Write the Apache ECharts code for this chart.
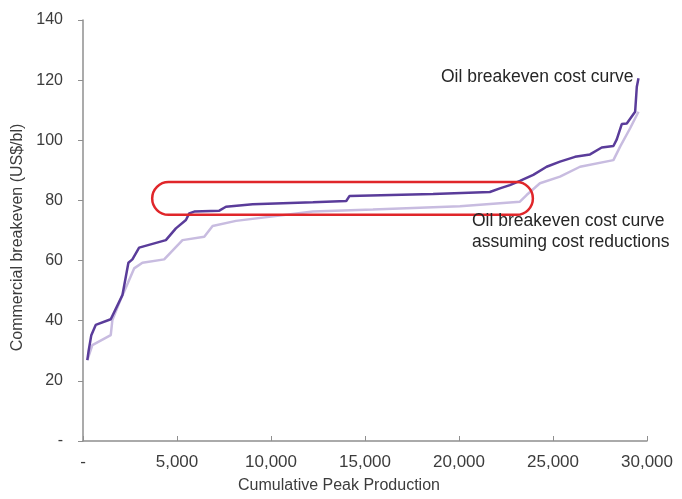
<!DOCTYPE html>
<html>
<head>
<meta charset="utf-8">
<script src="https://cdn.jsdelivr.net/npm/echarts@6/dist/echarts.min.js"></script>
<style>
html,body{margin:0;padding:0;background:#fff;}
#chart{width:682px;height:499px;}
</style>
</head>
<body>
<div id="chart"></div>
<script>
// Oil breakeven cost curve (cumulative peak production, breakeven US$/bl)
var baseProduction = [230, 300, 442, 676, 1476, 2096, 2415, 2628, 2985, 4408, 4941, 5474, 5650, 5917, 7249, 7604, 9026, 12225, 14003, 14179, 18622, 21641, 22175, 22708, 23240, 23951, 24661, 25372, 26171, 26970, 27592, 28214, 28392, 28658, 28925, 29369, 29458, 29547];
var baseBreakeven = [26.9, 30.0, 35.2, 38.6, 40.5, 48.5, 59.3, 60.4, 64.3, 66.8, 70.7, 73.5, 75.7, 76.3, 76.6, 77.9, 78.7, 79.4, 79.8, 81.5, 82.1, 82.8, 84.0, 85.1, 86.5, 88.5, 91.2, 92.9, 94.5, 95.3, 97.6, 98.1, 100.3, 105.4, 105.6, 109.5, 117.8, 120.6];

// Oil breakeven cost curve assuming cost reductions
var reducedProduction = [230, 496, 1476, 1562, 2096, 2185, 2719, 3161, 4318, 5293, 6450, 6893, 8137, 12225, 15422, 20049, 23240, 23596, 24306, 25372, 26438, 28214, 28570, 29103, 29547];
var reducedBreakeven = [26.9, 31.9, 35.2, 40.2, 48.5, 49.6, 57.4, 59.3, 60.4, 66.8, 67.9, 71.5, 73.2, 76.3, 77.0, 78.1, 79.6, 81.8, 85.7, 87.9, 91.2, 93.4, 97.9, 104.0, 109.5];

// highlighted flat region (production range, breakeven range)
var highlightProduction = [3680, 23930];
var highlightBreakeven = [75.2, 86.1];

var yTicks = [0, 20, 40, 60, 80, 100, 120, 140];
var xTicks = [0, 5000, 10000, 15000, 20000, 25000, 30000];

function zip(a, b) { return a.map(function (v, i) { return [v, b[i]]; }); }

var chart = echarts.init(document.getElementById('chart'));
var font = 'Liberation Sans, Arial, sans-serif';
var labelColor = '#3c3c3c';
var axisColor = '#8f8f8f';

chart.setOption({
  animation: false,
  backgroundColor: '#ffffff',
  grid: { left: 83, right: 35, top: 20, bottom: 58, containLabel: false },
  xAxis: {
    type: 'value',
    min: xTicks[0], max: xTicks[xTicks.length - 1], interval: xTicks[1] - xTicks[0],
    name: 'Cumulative Peak Production',
    nameLocation: 'middle', nameGap: 37,
    nameTextStyle: { fontFamily: font, fontSize: 16, color: labelColor, padding: [0, 52, 0, 0] },
    axisLine: { show: true, lineStyle: { color: axisColor, width: 1.5 } },
    axisTick: { show: true, inside: true, length: 5, lineStyle: { color: axisColor } },
    splitLine: { show: false },
    axisLabel: {
      fontFamily: font, fontSize: 17, color: labelColor, margin: 13,
      formatter: function (v) { return v === 0 ? '-' : v.toLocaleString('en-US'); }
    }
  },
  yAxis: {
    type: 'value',
    min: yTicks[0], max: yTicks[yTicks.length - 1], interval: yTicks[1] - yTicks[0],
    name: 'Commercial breakeven (US$/bl)',
    nameLocation: 'middle', nameGap: 49, nameRotate: 90,
    nameTextStyle: { fontFamily: font, fontSize: 16, color: labelColor, padding: [0, 14, 0, 0] },
    axisLine: { show: true, lineStyle: { color: axisColor, width: 1.5 } },
    axisTick: { show: true, inside: false, length: 5, lineStyle: { color: axisColor } },
    splitLine: { show: false },
    axisLabel: {
      fontFamily: font, fontSize: 16, color: labelColor, margin: 20,
      formatter: function (v) { return v === 0 ? '-' : String(v); }
    }
  },
  series: [
    {
      type: 'line', name: 'Oil breakeven cost curve assuming cost reductions',
      data: zip(reducedProduction, reducedBreakeven),
      showSymbol: false, smooth: false,
      lineStyle: { color: '#c8bce0', width: 2.5 }, z: 2
    },
    {
      type: 'line', name: 'Oil breakeven cost curve',
      data: zip(baseProduction, baseBreakeven),
      showSymbol: false, smooth: false,
      lineStyle: { color: '#5a3c9a', width: 2.5 }, z: 3
    }
  ]
});

var p1 = chart.convertToPixel({ gridIndex: 0 }, [highlightProduction[0], highlightBreakeven[1]]);
var p2 = chart.convertToPixel({ gridIndex: 0 }, [highlightProduction[1], highlightBreakeven[0]]);
var h = p2[1] - p1[1];

chart.setOption({
  graphic: [
    {
      type: 'rect', z: 10,
      shape: { x: p1[0], y: p1[1], width: p2[0] - p1[0], height: h, r: h / 2 },
      style: { fill: 'none', stroke: '#e0262a', lineWidth: 2.5 }
    },
    {
      type: 'text', z: 10, left: 441, top: 68,
      style: { text: 'Oil breakeven cost curve', font: '17.5px ' + font, fill: '#262626' }
    },
    {
      type: 'text', z: 10, left: 472, top: 211,
      style: { text: 'Oil breakeven cost curve\nassuming cost reductions', font: '17.5px ' + font, fill: '#262626', lineHeight: 21 }
    }
  ]
});
</script>
</body>
</html>
